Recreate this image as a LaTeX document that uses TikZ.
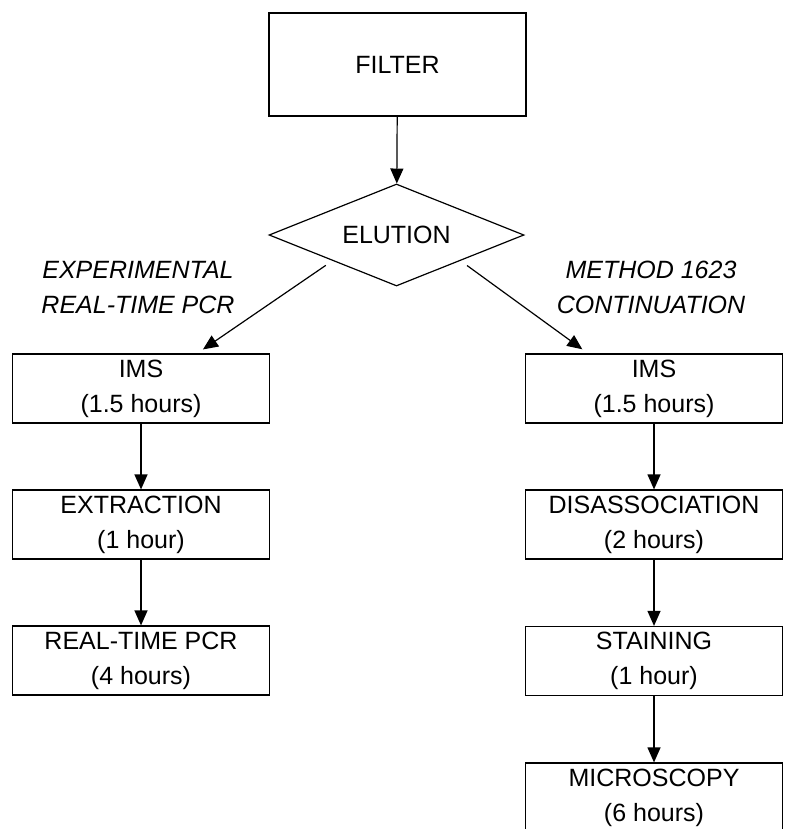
\documentclass[tikz,border=0pt]{standalone}
\usepackage{fontspec}
\setmainfont{Liberation Sans}
\usetikzlibrary{shapes.geometric,arrows.meta}
\begin{document}
\begin{tikzpicture}[x=0.5pt,y=-0.5pt,
    font=\fontsize{12.5pt}{17.5pt}\selectfont,
    box/.style={draw,line width=0.6pt,rectangle,minimum width=128.5pt,
      minimum height=34.5pt,inner sep=0pt,align=center},
    decision/.style={draw,line width=0.6pt,diamond,aspect=2.5,
      minimum width=127.5pt,minimum height=51pt,inner sep=0pt},
    branch/.style={font=\fontsize{12.5pt}{17.5pt}\selectfont\itshape,align=center},
    flow/.style={line width=0.6pt,-{Triangle[length=7.5pt,width=6.5pt]}}]
  \useasboundingbox (0,0) rectangle (784,829);

  % top of the chart
  \node[box,minimum height=51.5pt] (filter) at (397.5,64.5) {FILTER};
  \node[decision] (elution) at (396.5,235) {ELUTION};

  % the two branches
  \node[branch] (realtime) at (138,287.5) {EXPERIMENTAL\\REAL-TIME PCR};
  \node[branch] (method) at (651,287) {METHOD 1623\\CONTINUATION};

  \node[box] (imsL) at (141,388.5) {IMS\\(1.5 hours)};
  \node[box] (extr) at (141,524.5) {EXTRACTION\\(1 hour)};
  \node[box] (pcr) at (141,660.5) {REAL-TIME PCR\\(4 hours)};

  \node[box] (imsR) at (654,388.5) {IMS\\(1.5 hours)};
  \node[box] (dis) at (654,524.5) {DISASSOCIATION\\(2 hours)};
  \node[box] (stain) at (654,661) {STAINING\\(1 hour)};
  \node[box] (micro) at (654,797.5) {MICROSCOPY\\(6 hours)};

  \draw[flow] (filter) -- (elution);
  \draw[flow,shorten <=4pt,shorten >=3.5pt] (elution.south west) -- (imsL.32);
  \draw[flow,shorten <=4pt,shorten >=3.5pt] (elution.south east) -- (imsR.152);
  \foreach \a/\b in {imsL/extr,extr/pcr,imsR/dis,dis/stain,stain/micro}
    \draw[flow] (\a) -- (\b);
\end{tikzpicture}
\end{document}
